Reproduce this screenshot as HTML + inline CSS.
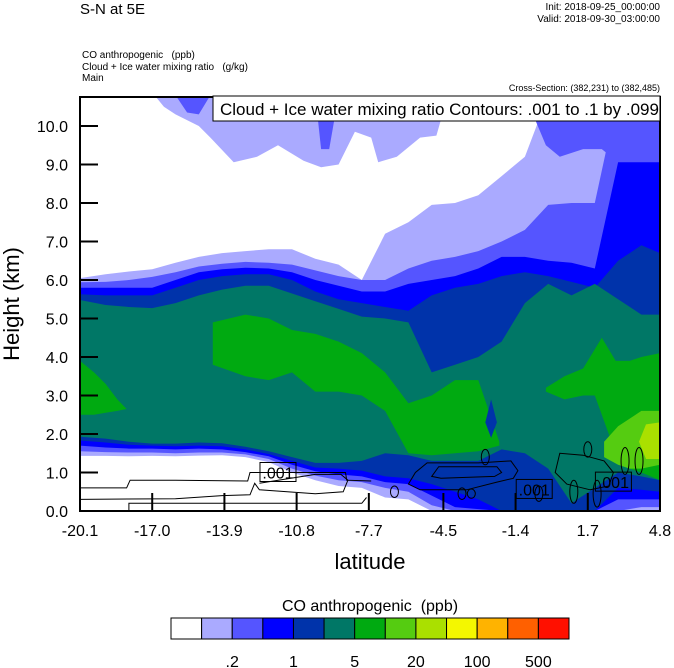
<!DOCTYPE html>
<html><head><meta charset="utf-8"><style>
body{margin:0;background:#fff;width:674px;height:668px;overflow:hidden;font-family:"Liberation Sans",sans-serif}
svg{display:block}
</style></head><body>
<svg id="chart" width="674" height="668" viewBox="0 0 674 668" xmlns="http://www.w3.org/2000/svg" font-family="Liberation Sans, sans-serif">
<text x="80" y="14" font-size="15">S-N at 5E</text>
<text x="660" y="10" font-size="10" text-anchor="end">Init: 2018-09-25_00:00:00</text>
<text x="660" y="22" font-size="10" text-anchor="end">Valid: 2018-09-30_03:00:00</text>
<text x="82" y="58" font-size="10">CO anthropogenic&#160;&#160;&#160;(ppb)</text>
<text x="82" y="70" font-size="10">Cloud + Ice water mixing ratio&#160;&#160;&#160;(g/kg)</text>
<text x="82" y="81" font-size="10">Main</text>
<text x="660" y="91" font-size="9" text-anchor="end">Cross-Section: (382,231) to (382,485)</text>
<defs><clipPath id="pc"><rect x="80" y="97" width="580" height="414"/></clipPath></defs>
<rect x="80" y="97" width="580" height="414" fill="#ffffff"/>
<g id="fills" clip-path="url(#pc)"></g>
<g id="contours" clip-path="url(#pc)"></g>
<g id="axes"></g>
<g id="legendbar"></g>
<rect x="213" y="96" width="447" height="25" fill="#fff" stroke="#000" stroke-width="1"/>
<text x="220" y="115" font-size="17">Cloud + Ice water mixing ratio Contours: .001 to .1 by .099</text>
<text transform="translate(19,304) rotate(-90)" font-size="22" text-anchor="middle">Height (km)</text>
<text x="370" y="569" font-size="22" text-anchor="middle">latitude</text>
<text x="370" y="611" font-size="16" text-anchor="middle">CO anthropogenic&#160;&#160;(ppb)</text>
</svg>
<script>
const LAT=[-20.1,-19,-18,-17,-16,-15,-14,-13,-12,-11,-10,-9,-8,-7,-6,-5,-4,-3,-2,-1,0,1,2,3,4,4.8];
const LB_TOP=[6.05,6.15,6.22,6.28,6.45,6.6,6.7,6.75,6.8,6.8,6.55,6.4,6.0,7.2,7.5,7.95,8.0,8.2,8.7,9.2,10.8,10.8,10.8,10.8,10.8,10.8];
const LB_BOT=[1.43,1.43,1.42,1.43,1.42,1.44,1.45,1.4,1.27,1.0,0.8,0.65,0.6,0.35,0.3,0,0,0,0,0,0,0,0,0,0,0];
const MB_TOP=[5.94,5.95,6.0,6.08,6.2,6.35,6.42,6.47,6.45,6.4,6.25,6.1,6.0,6.0,6.3,6.5,6.6,6.75,7.0,7.3,7.95,8.0,8.0,10.8,10.8,10.8];
const MB_BOT=[1.55,1.53,1.52,1.52,1.5,1.52,1.52,1.47,1.35,1.1,0.92,0.8,0.75,0.6,0.5,0.15,0,0,0,0,0,0,0,0,0.1,0.1];
const B_TOP=[5.8,5.8,5.8,5.8,6.0,6.2,6.28,6.32,6.3,6.2,6.0,5.85,5.7,5.7,5.9,6.0,6.1,6.3,6.6,6.6,6.5,6.45,6.3,9.06,9.06,9.06];
const B_BOT=[1.7,1.65,1.62,1.62,1.6,1.62,1.6,1.53,1.42,1.2,1.03,0.95,0.9,0.75,0.7,0.4,0.1,0.05,0,0,0,0,0,0.3,0.3,0.3];
const DB_TOP=[5.63,5.6,5.6,5.6,5.8,6.0,6.1,6.15,6.15,6.0,5.7,5.5,5.4,5.3,5.2,5.6,5.8,5.9,6.1,6.2,6.1,5.95,5.8,6.5,6.9,6.7];
const DB_BOT=[1.83,1.78,1.72,1.7,1.68,1.7,1.68,1.6,1.48,1.3,1.13,1.1,1.05,0.9,0.85,0.7,0.5,0.3,0,0,0,0,0,0.6,0.55,0.5];
const T_TOP=[5.48,5.35,5.3,5.27,5.4,5.6,5.75,5.85,5.85,5.65,5.45,5.25,5.05,5.0,4.9,3.6,3.8,4.0,4.4,5.4,5.9,5.6,5.9,5.5,5.1,5.1];
const T_BOT=[1.93,1.88,1.8,1.75,1.75,1.78,1.76,1.67,1.55,1.4,1.25,1.25,1.3,1.5,1.45,1.3,1.3,1.3,1.6,1.5,1.1,0.2,0.6,1.0,0.9,0.8];
const UP_LB_LAT=[-16.9,-16.5,-16,-15,-14.5,-13.5,-12.5,-11.6,-10.5,-9.75,-9,-8.3,-7.6,-7.3,-6.5,-5.5,-4.8,-4.3];
const UP_LB_BOT=[10.8,10.5,10.3,10.0,9.7,9.06,9.2,9.5,9.1,8.93,9.0,9.85,9.7,9.06,9.2,9.7,9.75,10.8];
const UP_MB1_LAT=[-16,-15.5,-15,-14.5]; const UP_MB1_BOT=[10.8,10.35,10.3,10.8];
const UP_MB2_LAT=[-10.0,-9.75,-9.4,-9.0]; const UP_MB2_BOT=[10.8,9.4,9.4,10.8];
const UP_MB3_LAT=[-1.0,-0.1,0.5,1.5,2.3,3.0]; const UP_MB3_BOT=[10.8,9.5,9.2,9.4,9.4,9.06];
const GA_LAT=[-14.4,-13,-12,-11,-10,-9,-8,-7,-6,-5,-4,-3,-2.1];
const GA_TOP=[4.9,5.1,5.0,4.7,4.6,4.4,4.1,3.6,2.8,3.0,3.4,3.4,1.8];
const GA_BOT=[3.8,3.5,3.4,3.6,3.1,3.1,3.0,2.6,1.5,1.45,1.5,1.55,1.7];
const GL_LAT=[-20.1,-19.5,-19,-18.5,-18.1]; const GL_TOP=[3.9,3.6,3.3,2.9,2.65]; const GL_BOT=[2.5,2.5,2.55,2.6,2.65];
const GB_LAT=[-0.1,0.7,1.5,2.0,2.3,2.9,3.5,4.0,4.8];
const GB_TOP=[3.2,3.5,3.7,4.2,4.5,3.9,3.9,4.0,4.1];
const GB_BOT=[3.1,2.9,3.0,3.0,2.5,1.5,1.1,1.0,0.8];
const LM_LAT=[2.4,3,3.5,4,4.8]; const LM_TOP=[1.8,2.2,2.4,2.6,2.6]; const LM_BOT=[1.4,1.2,1.1,1.1,1.2];
const YG_LAT=[3.9,4.2,4.8]; const YG_TOP=[1.8,2.25,2.3]; const YG_BOT=[1.8,1.35,1.35];
const DBP_LAT=[-2.7,-2.45,-2.2]; const DBP_TOP=[2.3,2.9,2.3]; const DBP_BOT=[2.3,1.9,2.3];
const C1_LAT=[-20.1,-18.1,-17.95,-16.0,-12.9,-12.8,-8.7,-8.65,-7.6];
const C1_H=[0.6,0.6,0.8,0.8,0.78,1.0,1.0,0.8,0.78];
const C2_LAT=[-20.1,-16,-14,-12.8,-12.6,-12.4,-10,-8.8,-8.6,-8.9,-10,-12.4];
const C2_H=[0.3,0.32,0.4,0.42,0.72,0.55,0.45,0.5,0.8,0.95,0.95,0.72];
const C3_LAT=[-18.0,-18.0,-8.0,-7.8];
const C3_H=[0,0.2,0.2,0.35];
const C4_LAT=[-6.0,-5.7,-5.2,-3.0,-1.6,-1.3,-1.5,-2.2,-3.5,-5.5,-6.0];
const C4_H=[0.7,1.0,1.25,1.25,1.3,1.05,0.85,0.75,0.55,0.55,0.7];
const C5_LAT=[-5.0,-4.7,-2.2,-2.0,-2.3,-4.6,-5.0];
const C5_H=[0.9,1.15,1.15,1.0,0.9,0.85,0.9];
const C6_LAT=[0.3,0.5,1.5,2.4,2.8,2.6,1.8,0.8,0.3];
const C6_H=[1.0,1.5,1.45,1.3,1.0,0.65,0.55,0.7,1.0];
const ELL_LAT=[-2.7,-3.7,-3.3,-0.4,1.1,2.1,3.3,3.9,1.7,-6.6];
const ELL_H=[1.4,0.45,0.45,0.45,0.5,0.45,1.3,1.3,1.6,0.5];
const ELL_RH=[0.2,0.15,0.12,0.2,0.3,0.35,0.35,0.35,0.2,0.15];
const YT=[0,1,2,3,4,5,6,7,8,9,10];
const YT_LBL=["0.0","1.0","2.0","3.0","4.0","5.0","6.0","7.0","8.0","9.0","10.0"];
const XT=[-20.1,-17.0,-13.9,-10.8,-7.7,-4.5,-1.4,1.7,4.8];
const XT_LBL=["-20.1","-17.0","-13.9","-10.8","-7.7","-4.5","-1.4","1.7","4.8"];
const CB_COLORS=["#ffffff","#aaaaff","#5555ff","#0000ff","#0033aa","#007766","#00aa11","#55cc11","#aae000","#f4f700","#ffb300","#ff6000","#ff1000"];
const CB_LBL=[".2","1","5","20","100","500"];
const CB_LBL_IDX=[2,4,6,8,10,12];

const NS="http://www.w3.org/2000/svg";
const X=lat=>80+(lat+20.1)*(580/24.9);
const Y=h=>511-h*38.5;
function mk(tag,parent){const e=document.createElementNS(NS,tag);parent.appendChild(e);return e;}
const fills=document.getElementById('fills');
function band(lats,top,bot,color,name){
  let pts=[];
  for(let i=0;i<lats.length;i++)pts.push(X(lats[i]).toFixed(1)+","+Y(top[i]).toFixed(1));
  for(let i=lats.length-1;i>=0;i--)pts.push(X(lats[i]).toFixed(1)+","+Y(bot[i]).toFixed(1));
  const p=mk('polygon',fills);
  p.setAttribute('points',pts.join(' '));
  p.setAttribute('fill',color);
  
  
}
band(LAT,LB_TOP,LB_BOT,"#aaaaff","band-0.1");
band(UP_LB_LAT,UP_LB_LAT.map(()=>10.8),UP_LB_BOT,"#aaaaff","upper-band-0.1");
band(LAT,MB_TOP,MB_BOT,"#5555ff","band-0.2");
band(UP_MB1_LAT,UP_MB1_LAT.map(()=>10.8),UP_MB1_BOT,"#5555ff","upper-band-0.2-a");
band(UP_MB2_LAT,UP_MB2_LAT.map(()=>10.8),UP_MB2_BOT,"#5555ff","upper-band-0.2-b");
band(UP_MB3_LAT,UP_MB3_LAT.map(()=>10.8),UP_MB3_BOT,"#5555ff","upper-band-0.2-c");
band(LAT,B_TOP,B_BOT,"#0000ff","band-0.5");
band(LAT,DB_TOP,DB_BOT,"#0033aa","band-1");
band(LAT,T_TOP,T_BOT,"#007766","band-2");
band(GA_LAT,GA_TOP,GA_BOT,"#00aa11","green-blob-mid");
band(GL_LAT,GL_TOP,GL_BOT,"#00aa11","green-blob-left");
band(GB_LAT,GB_TOP,GB_BOT,"#00aa11","green-blob-right");
band(LM_LAT,LM_TOP,LM_BOT,"#55cc11","lime-blob");
band(YG_LAT,YG_TOP,YG_BOT,"#aae000","yellowgreen-blob");
band(DBP_LAT,DBP_TOP,DBP_BOT,"#0033aa","darkblue-pocket");

const cont=document.getElementById('contours');
function line(lats,hs,name,closed){
  const p=mk(closed?'polygon':'polyline',cont);
  p.setAttribute('points',lats.map((l,i)=>X(l).toFixed(1)+","+Y(hs[i]).toFixed(1)).join(' '));
  p.setAttribute('fill','none');p.setAttribute('stroke','#000');p.setAttribute('stroke-width','1');
  
  
}
line(C1_LAT,C1_H,'contour-line-1',false);
line(C2_LAT,C2_H,'contour-line-2',false);
line(C3_LAT,C3_H,'contour-line-3',false);
line(C4_LAT,C4_H,'contour-loop-4',true);
line(C5_LAT,C5_H,'contour-loop-5',true);
line(C6_LAT,C6_H,'contour-loop-6',true);
for(let i=0;i<ELL_LAT.length;i++){
  const e=mk('ellipse',cont);
  e.setAttribute('cx',X(ELL_LAT[i]));e.setAttribute('cy',Y(ELL_H[i]));
  e.setAttribute('rx',4);e.setAttribute('ry',ELL_RH[i]*38.5);
  e.setAttribute('fill','none');e.setAttribute('stroke','#000');
  
  
}
const LBL_LAT=[-11.6,-0.6,2.8]; const LBL_H=[1.0,0.56,0.75];
for(let i=0;i<LBL_LAT.length;i++){
  const cx=X(LBL_LAT[i]),cy=Y(LBL_H[i]);
  const r=mk('rect',cont);
  r.setAttribute('x',cx-18);r.setAttribute('y',cy-10);r.setAttribute('width',36);r.setAttribute('height',19);
  r.setAttribute('fill','none');r.setAttribute('stroke','#000');
  
  
  const t=mk('text',cont);
  t.setAttribute('x',cx);t.setAttribute('y',cy+6);t.setAttribute('font-size','16');t.setAttribute('text-anchor','middle');
  t.textContent='.001';
  
  
}

const ax=document.getElementById('axes');
const fr=mk('rect',ax);
fr.setAttribute('x',80);fr.setAttribute('y',97);fr.setAttribute('width',580);fr.setAttribute('height',414);
fr.setAttribute('fill','none');fr.setAttribute('stroke','#000');fr.setAttribute('stroke-width','2');


YT.forEach((v,i)=>{
  const l=mk('line',ax);
  l.setAttribute('x1',80);l.setAttribute('x2',98);l.setAttribute('y1',Y(v));l.setAttribute('y2',Y(v));
  l.setAttribute('stroke','#000');l.setAttribute('stroke-width','2');
  
  
  const t=mk('text',ax);
  t.setAttribute('x',68);t.setAttribute('y',Y(v)+6);t.setAttribute('font-size','16');t.setAttribute('text-anchor','end');
  t.textContent=YT_LBL[i];
  
  
});
XT.forEach((v,i)=>{
  const l=mk('line',ax);
  l.setAttribute('x1',X(v));l.setAttribute('x2',X(v));l.setAttribute('y1',493);l.setAttribute('y2',511);
  l.setAttribute('stroke','#000');l.setAttribute('stroke-width','2');
  
  
  const t=mk('text',ax);
  t.setAttribute('x',X(v));t.setAttribute('y',536);t.setAttribute('font-size','16');t.setAttribute('text-anchor','middle');
  t.textContent=XT_LBL[i];
  
  
});
const lg=document.getElementById('legendbar');
const bw=(569-171)/CB_COLORS.length;
CB_COLORS.forEach((c,i)=>{
  const r=mk('rect',lg);
  r.setAttribute('x',171+i*bw);r.setAttribute('y',618);r.setAttribute('width',bw);r.setAttribute('height',21);
  r.setAttribute('fill',c);r.setAttribute('stroke','#000');r.setAttribute('stroke-width','1');
  
  
});
CB_LBL.forEach((s,i)=>{
  const t=mk('text',lg);
  t.setAttribute('x',171+CB_LBL_IDX[i]*bw);t.setAttribute('y',667);t.setAttribute('font-size','16');t.setAttribute('text-anchor','middle');
  t.textContent=s;
  
  
});
</script>
</body></html>
